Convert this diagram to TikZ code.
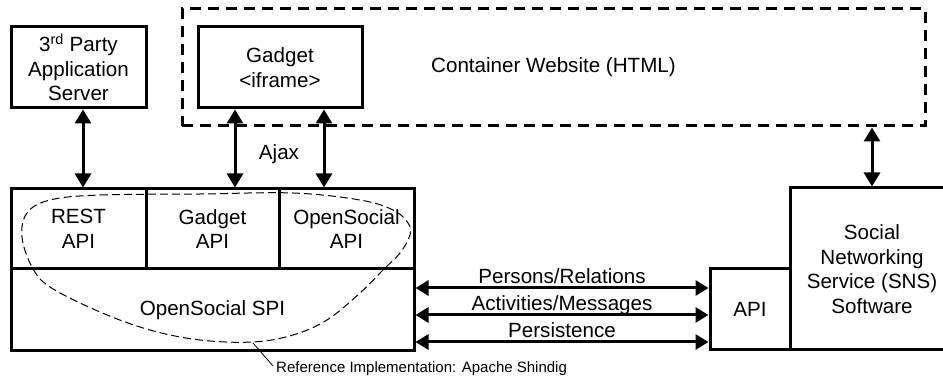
\documentclass[tikz,border=0pt]{standalone}
\usepackage{fontspec}
\setmainfont{Liberation Sans}
\usetikzlibrary{arrows.meta}
\begin{document}
\begin{tikzpicture}[x=1pt,y=-1pt,
  box/.style={draw,line width=3pt,rectangle,inner sep=0pt,align=center,font=\fontsize{20.6}{24.5}\selectfont},
  cont/.style={draw,line width=3pt,dash pattern=on 11pt off 7pt,rectangle,inner sep=0pt,align=center,font=\fontsize{20.6}{24.5}\selectfont},
  lbl/.style={inner sep=0pt,font=\fontsize{20.6}{24.5}\selectfont},
  small/.style={inner sep=0pt,font=\fontsize{15}{17}\selectfont},
  biv/.style={line width=3pt,{Triangle[length=14pt,width=16pt]}-{Triangle[length=14pt,width=16pt]}},
  bih/.style={line width=3pt,{Triangle[length=13pt,width=15pt]}-{Triangle[length=13pt,width=15pt]}},
  blob/.style={line width=1pt,dash pattern=on 8pt off 4pt}
]
\useasboundingbox (0,0) rectangle (943,379);
\clip (0,0) rectangle (943,379);

% container website
\node[cont,minimum width=743pt,minimum height=117pt] (container) at (553.5,67.5) {Container Website (HTML)};
% top boxes
\node[box,fill=white,minimum width=135pt,minimum height=81pt] (third) at (78.5,67.5) {3\textsuperscript{rd} Party\\Application\\Server};
\node[box,fill=white,minimum width=164pt,minimum height=81pt] (gadget) at (280,67.5) {Gadget\\<iframe>};

% main block
\node[box,minimum width=135pt,minimum height=80pt] (rest) at (78.5,229) {REST\\API};
\node[box,minimum width=133pt,minimum height=80pt] (gapi) at (212.5,229) {Gadget\\API};
\node[box,minimum width=135pt,minimum height=80pt] (osapi) at (346.5,229) {OpenSocial\\API};
\node[box,minimum width=403pt,minimum height=82pt] (spi) at (212.5,310) {OpenSocial SPI};

% right side
\node[box,minimum width=80pt,minimum height=81pt] (api) at (750,309.5) {API};
\node[box,minimum width=164pt,minimum height=162pt] (sns) at (872,269) {Social\\Networking\\Service (SNS)\\Software};

% vertical arrows
\coordinate (x1) at (83,0);
\coordinate (x2) at (235,0);
\coordinate (x3) at (324,0);
\coordinate (x4) at (872,0);
\draw[biv] (third.south -| x1) -- (rest.north -| x1);
\draw[biv] (gadget.south -| x2) -- (gapi.north -| x2);
\draw[biv] (gadget.south -| x3) -- (osapi.north -| x3);
\draw[biv] (container.south -| x4) -- (sns.north -| x4);
\node[lbl] (ajax) at (279,154) {Ajax};

% horizontal arrows
\coordinate (y1) at (0,288);
\coordinate (y2) at (0,315);
\coordinate (y3) at (0,342);
\draw[bih] (spi.east |- y1) -- (api.west |- y1);
\draw[bih] (spi.east |- y2) -- (api.west |- y2);
\draw[bih] (spi.east |- y3) -- (api.west |- y3);
\node[lbl,anchor=base] (l1) at (562,284) {Persons/Relations};
\node[lbl,anchor=base] (l2) at (562,311) {Activities/Messages};
\node[lbl,anchor=base] (l3) at (562,337.5) {Persistence};

% reference implementation blob
\draw[blob] plot[smooth cycle,tension=0.6] coordinates {
  (50,200) (100,195) (200,194) (293,193) (360,200) (393,210) (408,223)
  (410,235) (400,253) (383,270) (360,293) (327,320) (293,335) (253,342)
  (200,340) (150,330) (100,312) (50,287) (32,267) (22,237) (27,213)};
\coordinate (lead) at (253,343);
\node[small,anchor=west] (ref) at (276,369) {Reference Implementation: Apache Shindig};
\draw[line width=0.8pt] (lead) -- ([shift={(-3,-3)}]ref.west);
\end{tikzpicture}
\end{document}
